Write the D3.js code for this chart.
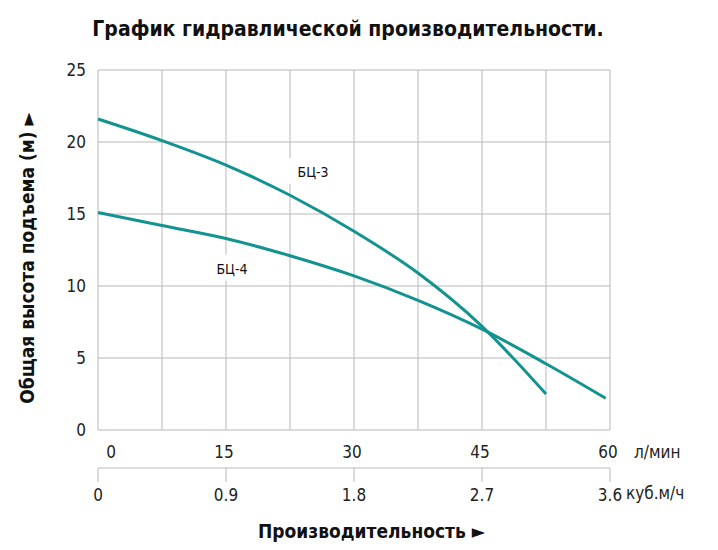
<!DOCTYPE html>
<html><head><meta charset="utf-8">
<script src="https://cdn.jsdelivr.net/npm/d3@7"></script>
<style>body{margin:0;background:#fff}text{font-family:"DejaVu Sans Condensed","DejaVu Sans",sans-serif}</style>
</head><body><div id="chart"></div>
<script>
var width = 718, height = 550;
// flow, l/min
var flow3 = [0, 7.5, 15, 22.5, 30, 37.5, 45, 52.5];
var head3 = [21.6, 20.1, 18.4, 16.3, 13.8, 10.9, 7.2, 2.5];
var flow4 = [0, 7.5, 15, 22.5, 30, 37.5, 45, 52.5, 59.5];
var head4 = [15.1, 14.2, 13.3, 12.1, 10.7, 9.0, 7.0, 4.6, 2.2];
var lminTicks = [0, 15, 30, 45, 60];
var m3Ticks = ["0", "0.9", "1.8", "2.7", "3.6"];
var yTicks = [0, 5, 10, 15, 20, 25];
var color = "#13938f";

var svg = d3.select("#chart").append("svg").attr("width", width).attr("height", height);
var x = d3.scaleLinear().domain([0, 60]).range([98, 610]);
var y = d3.scaleLinear().domain([0, 25]).range([430, 70]);

// grid
svg.selectAll(".vg").data(d3.range(0, 60.1, 7.5)).enter().append("line")
	.attr("x1", d => x(d)).attr("x2", d => x(d)).attr("y1", y(0)).attr("y2", y(25))
	.attr("stroke", "#b8b8b8").attr("stroke-width", 1);
svg.selectAll(".hg").data(yTicks).enter().append("line")
	.attr("x1", x(0)).attr("x2", x(60)).attr("y1", d => y(d)).attr("y2", d => y(d))
	.attr("stroke", "#b8b8b8").attr("stroke-width", 1);

svg.selectAll(".yt").data(yTicks).enter().append("text")
	.attr("x", 86).attr("y", d => y(d) + 6).attr("text-anchor", "end")
	.attr("font-size", 17).attr("fill", "#222").text(d => d);

// labels with white boxes
function label(t, vx, vy) {
	svg.append("rect").attr("x", x(vx) - 28).attr("y", y(vy) - 14).attr("width", 56).attr("height", 26).attr("fill", "#fff");
	svg.append("text").attr("x", x(vx)).attr("y", y(vy) + 5).attr("text-anchor", "middle")
		.attr("font-size", 14).attr("font-family", "Liberation Sans, Arial").attr("fill", "#111").text(t);
}
label("БЦ-3", 25.2, 17.9);
label("БЦ-4", 15.7, 11.2);

var line = d3.line().x(d => x(d[0])).y(d => y(d[1])).curve(d3.curveMonotoneX);
[[flow3, head3], [flow4, head4]].forEach(function(s) {
	svg.append("path").datum(d3.zip(s[0], s[1])).attr("d", line)
		.attr("fill", "none").attr("stroke", color).attr("stroke-width", 3);
});

// l/min labels
svg.selectAll(".xt").data(lminTicks).enter().append("text")
	.attr("x", (d, i) => i == 0 ? x(d) + 13 : x(d) - 2).attr("y", 458).attr("text-anchor", "middle")
	.attr("font-size", 17).attr("fill", "#222").text(d => d);
svg.append("text").attr("x", 634).attr("y", 458).attr("font-size", 17).attr("fill", "#222").text("л/мин");

// second axis
svg.append("line").attr("x1", x(0)).attr("x2", x(60)).attr("y1", 468).attr("y2", 468).attr("stroke", "#b8b8b8");
svg.selectAll(".t2").data(lminTicks).enter().append("line")
	.attr("x1", d => x(d)).attr("x2", d => x(d)).attr("y1", 468).attr("y2", 482).attr("stroke", "#b8b8b8");
svg.selectAll(".mt").data(m3Ticks).enter().append("text")
	.attr("x", (d, i) => x(lminTicks[i])).attr("y", 501).attr("text-anchor", "middle")
	.attr("font-size", 17).attr("fill", "#222").text(d => d);
svg.append("text").attr("x", 626).attr("y", 499).attr("font-size", 17).attr("fill", "#222").text("куб.м/ч");

svg.append("text").attr("x", 258).attr("y", 538).attr("font-size", 19).attr("font-weight", "bold").attr("fill", "#111").text("Производительность ►");
svg.append("text").attr("x", 348).attr("y", 36).attr("text-anchor", "middle").attr("font-size", 21).attr("font-weight", "bold").attr("fill", "#111").text("График гидравлической производительности.");
svg.append("text").attr("transform", "translate(34,258) rotate(-90)").attr("text-anchor", "middle")
	.attr("font-size", 19).attr("font-weight", "bold").attr("fill", "#111").text("Общая высота подъема (м)    ►");
</script></body></html>
